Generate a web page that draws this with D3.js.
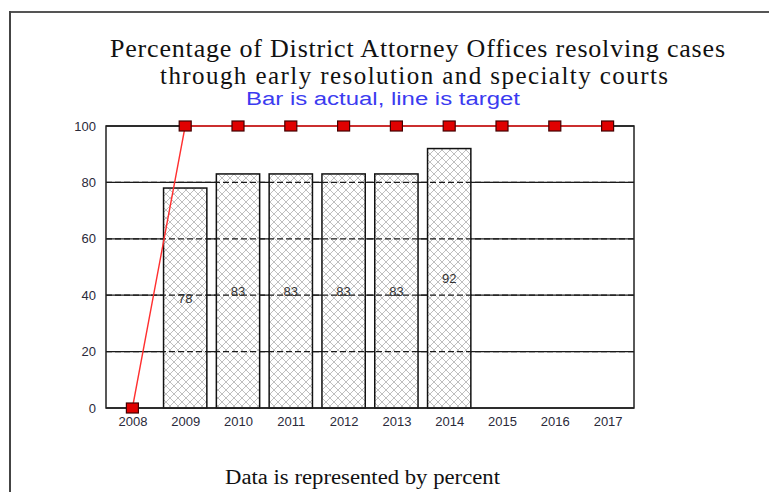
<!DOCTYPE html>
<html>
<head>
<meta charset="utf-8">
<script src="https://cdn.jsdelivr.net/npm/d3@7"></script>
<style>
  body { margin: 0; background: #fff; }
  svg { display: block; }
</style>
</head>
<body>
<svg id="chart" width="769" height="492"></svg>
<script>
// datos del grafico
var years = ["2008", "2009", "2010", "2011", "2012", "2013", "2014", "2015", "2016", "2017"];
var actual = [null, 78, 83, 83, 83, 83, 92, null, null, null];
var target = [0, 100, 100, 100, 100, 100, 100, 100, 100, 100];
var yTicks = [0, 20, 40, 60, 80, 100];

var svg = d3.select("#chart"),
    margin = {top: 126, right: 135, bottom: 84, left: 106},
    width = svg.attr("width") - margin.left - margin.right,
    height = svg.attr("height") - margin.top - margin.bottom;

// marco gris
svg.append("line").attr("x1", 10).attr("x2", 769).attr("y1", 12).attr("y2", 12)
  .attr("stroke", "#555").attr("stroke-width", 2);
svg.append("line").attr("x1", 10).attr("x2", 10).attr("y1", 11).attr("y2", 492)
  .attr("stroke", "#444").attr("stroke-width", 2);

// patron cuadriculado de las barras
var defs = svg.append("defs");
var pat = defs.append("pattern")
  .attr("id", "hatch")
  .attr("patternUnits", "userSpaceOnUse")
  .attr("width", 8).attr("height", 8);
pat.append("rect").attr("width", 8).attr("height", 8).attr("fill", "#fff");
pat.append("path").attr("d", "M0,0 L8,8 M8,0 L0,8")
  .attr("stroke", "#b8b8b8").attr("stroke-width", 0.9);

// titulos
svg.append("text").attr("x", 110).attr("y", 57)
  .attr("textLength", 615).attr("lengthAdjust", "spacing")
  .style("font", "26px 'Liberation Serif', serif").attr("fill", "#111")
  .text("Percentage of District Attorney Offices resolving cases");
svg.append("text").attr("x", 160).attr("y", 84)
  .attr("textLength", 508).attr("lengthAdjust", "spacing")
  .style("font", "25px 'Liberation Serif', serif").attr("fill", "#111")
  .text("through early resolution and specialty courts");
svg.append("text").attr("x", 246).attr("y", 105)
  .attr("textLength", 274).attr("lengthAdjust", "spacingAndGlyphs")
  .style("font", "18px 'Liberation Sans', Arial, sans-serif").attr("fill", "#3b3bf0")
  .text("Bar is actual, line is target");
svg.append("text").attr("x", 225).attr("y", 484)
  .attr("textLength", 275).attr("lengthAdjust", "spacingAndGlyphs")
  .style("font", "20px 'Liberation Serif', serif").attr("fill", "#111")
  .text("Data is represented by percent");

var g = svg.append("g").attr("transform", "translate(" + margin.left + "," + margin.top + ")");

var x = d3.scaleBand().domain(years).range([0, width]).paddingInner(0.18).paddingOuter(0.09);
var xc = d3.scalePoint().domain(years).range([0, width]).padding(0.5);
var y = d3.scaleLinear().domain([0, 100]).range([height, 0]);

// lineas de la cuadricula (solidas, debajo)
g.append("g").selectAll("line").data(yTicks).enter().append("line")
  .attr("x1", 0).attr("x2", width)
  .attr("y1", function(d) { return y(d); }).attr("y2", function(d) { return y(d); })
  .attr("stroke", "#1a1a1a").attr("stroke-width", 1.3);

var barData = years.map(function(k, i) { return {year: k, value: actual[i]}; })
  .filter(function(d) { return d.value != null; });

// barras
g.append("g").selectAll("rect").data(barData).enter().append("rect")
  .attr("x", function(d) { return x(d.year); })
  .attr("y", function(d) { return y(d.value); })
  .attr("width", x.bandwidth())
  .attr("height", function(d) { return height - y(d.value); })
  .attr("fill", "url(#hatch)")
  .attr("stroke", "#111").attr("stroke-width", 1.5);

// cuadricula punteada encima (se ve dentro de las barras)
g.append("g").selectAll("line").data(yTicks.slice(1, 5)).enter().append("line")
  .attr("x1", 0).attr("x2", width)
  .attr("y1", function(d) { return y(d); }).attr("y2", function(d) { return y(d); })
  .attr("stroke", "#1a1a1a").attr("stroke-width", 1.3)
  .attr("stroke-dasharray", "6,3");

// caja del area
g.append("rect").attr("width", width).attr("height", height)
  .attr("fill", "none").attr("stroke", "#222").attr("stroke-width", 1.5);

// etiquetas de valor
g.append("g").selectAll("text").data(barData).enter().append("text")
  .attr("x", function(d) { return xc(d.year); })
  .attr("y", function(d) { return y(d.value / 2); })
  .attr("dy", "0.35em")
  .attr("text-anchor", "middle")
  .style("font", "13px 'Liberation Sans', Arial, sans-serif")
  .attr("fill", "#333")
  .text(function(d) { return d.value; });

// linea objetivo
var line = d3.line()
  .x(function(d, i) { return xc(years[i]); })
  .y(function(d) { return y(d); });
g.append("path").datum(target)
  .attr("d", line)
  .attr("fill", "none")
  .attr("stroke", "#ff3030").attr("stroke-width", 1.4);

g.append("g").selectAll("rect").data(target).enter().append("rect")
  .attr("x", function(d, i) { return xc(years[i]) - 6; })
  .attr("y", function(d) { return y(d) - 5; })
  .attr("width", 12).attr("height", 10)
  .attr("fill", "#e00000")
  .attr("stroke", "#400").attr("stroke-width", 1.2);

// ejes
var xAxis = g.append("g")
  .attr("transform", "translate(0," + height + ")")
  .call(d3.axisBottom(xc).tickSize(0).tickPadding(9));
xAxis.select(".domain").remove();
xAxis.selectAll("text")
  .style("font", "13px 'Liberation Sans', Arial, sans-serif")
  .attr("fill", "#2a2a3a");

var yAxis = g.append("g")
  .call(d3.axisLeft(y).tickValues(yTicks).tickSize(0).tickPadding(10));
yAxis.select(".domain").remove();
yAxis.selectAll("text")
  .style("font", "13px 'Liberation Sans', Arial, sans-serif")
  .attr("fill", "#2a2a3a");
</script>
</body>
</html>
